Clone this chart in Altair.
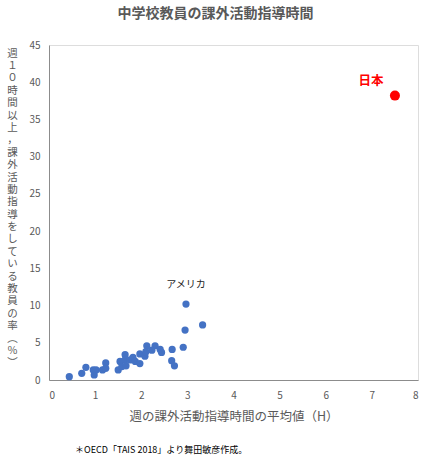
import altair as alt
import pandas as pd

hours = [0.44, 0.71, 0.80, 0.96, 0.98, 1.02, 1.16, 1.23, 1.23, 1.50, 1.54, 1.58, 1.65, 1.65,
         1.67, 1.76, 1.82, 1.87, 1.97, 1.97, 2.08, 2.12, 2.10, 2.30, 2.23, 2.41, 2.44, 2.66,
         2.72, 2.67, 2.91, 2.95, 3.33, 2.97]
rates = [0.45, 0.9, 1.7, 1.35, 0.67, 1.35, 1.35, 2.3, 1.57, 1.35, 2.5, 1.8, 3.4, 2.7,
         1.9, 2.7, 3.05, 2.5, 2.2, 3.5, 3.2, 4.6, 3.8, 4.6, 4.0, 4.1, 3.7, 2.6,
         1.9, 4.1, 4.4, 6.7, 7.4, 10.2]
japan_hours = [7.5]
japan_rate = [38.2]
label_names = ["アメリカ"]
label_x = [2.97]
label_y = [12.7]
x_ticks = [0, 1, 2, 3, 4, 5, 6, 7, 8]
y_ticks = [0, 5, 10, 15, 20, 25, 30, 35, 40, 45]

title_text = "中学校教員の課外活動指導時間"
y_title = "週１０時間以上，課外活動指導をしている教員の率︵％︶"
x_title = "週の課外活動指導時間の平均値（H）"
footnote = "＊OECD「TAIS 2018」より舞田敏彦作成。"

df = pd.DataFrame({"h": hours, "r": rates})
jp = pd.DataFrame({"h": japan_hours, "r": japan_rate, "name": ["日本"]})
lab = pd.DataFrame({"h": label_x, "r": label_y, "name": label_names})

FONT = "Noto Sans CJK JP"
GRAY = "#595959"

xs = alt.Scale(domain=[0, 8], nice=False)
ys = alt.Scale(domain=[0, 45], nice=False)

xaxis = alt.Axis(values=x_ticks, grid=False, ticks=False, labelPadding=10,
                 labelFontSize=10, labelColor=GRAY, domainColor="#8c8c8c", labelOverlap=False,
                 title=x_title, titleFontSize=12.5, titleColor=GRAY, titleFontWeight="normal",
                 titlePadding=10, labelFont=FONT, titleFont=FONT)
yaxis = alt.Axis(values=y_ticks, grid=False, ticks=False, labelPadding=9,
                 labelFontSize=10, labelColor=GRAY, domainColor="#8c8c8c", labelOverlap=False,
                 title=list(y_title), titleAngle=0, titleAlign="center", titleBaseline="top",
                 titleX=-37, titleY=3, titleLineHeight=12.4, titleFontSize=10.5,
                 titleColor=GRAY, titleFontWeight="normal", labelFont=FONT, titleFont=FONT)

X = alt.X("h:Q", scale=xs, axis=xaxis)
Y = alt.Y("r:Q", scale=ys, axis=yaxis)

pts = alt.Chart(df).mark_circle(size=52, opacity=1, color="#4472C4").encode(x=X, y=Y)
jpt = alt.Chart(jp).mark_circle(size=100, opacity=1, color="#FF0000").encode(x=X, y=Y)
jlab = alt.Chart(jp).mark_text(color="#FF0000", fontSize=12.5, fontWeight="bold", font=FONT,
                               dx=-24, dy=-15).encode(x=X, y=Y, text="name:N")
ulab = alt.Chart(lab).mark_text(color="#262626", fontSize=10, font=FONT).encode(
    x=X, y=Y, text="name:N")
foot = alt.Chart(pd.DataFrame({"t": [footnote]})).mark_text(
    fontSize=9, font=FONT, color="#000000", align="left", baseline="middle").encode(
    x=alt.value(26), y=alt.value(405), text="t:N")

chart = alt.layer(pts, jpt, jlab, ulab, foot).properties(
    width=369, height=335,
    title=alt.TitleParams(title_text, fontSize=14, font=FONT, fontWeight="bold", color=GRAY,
                          anchor="middle", frame="group", dx=-18, offset=19),
    autosize=alt.AutoSizeParams(type="none"),
    padding={"left": 49, "top": 45, "right": 12, "bottom": 84},
).configure_view(stroke=None).configure(background="white")

chart.save("out.html", embed_options={"renderer": "svg", "actions": False})
